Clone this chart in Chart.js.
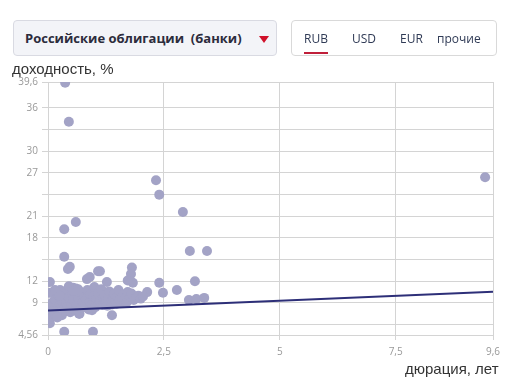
<!DOCTYPE html>
<html>
<head>
<meta charset="utf-8">
<script src="https://cdn.jsdelivr.net/npm/chart.js@4.4.0/dist/chart.umd.min.js"></script>
<style>
  body { margin: 0; width: 528px; height: 385px; background: #fff; overflow: hidden; font-family: "Open Sans", sans-serif; }
  #wrap { position: relative; width: 528px; height: 385px; }
  #chart { position: absolute; left: 0; top: 0; }
  .select { position: absolute; left: 13px; top: 20px; width: 262px; height: 34px; background: #f3f4f8; border: 1px solid #d9dae2; border-radius: 4px; }
  .select span { position: absolute; left: 11px; top: 8px; font-size: 13px; font-weight: 700; color: #2c2c3c; white-space: pre; }
  .select i { position: absolute; left: 245px; top: 15px; width: 0; height: 0; border-left: 5px solid transparent; border-right: 5px solid transparent; border-top: 7px solid #d0102a; }
  .tabs { position: absolute; left: 291px; top: 20px; width: 204px; height: 34px; border: 1px solid #d9d9d9; border-radius: 4px; background: #fff; }
  .tabs span { position: absolute; top: 9px; font-size: 12px; color: #2f3a55; }
  .tabs .on { border-bottom: 2px solid #c01f3a; padding-bottom: 5px; }
  .axt { position: absolute; font-family: "Liberation Sans", Arial, sans-serif; font-size: 15px; color: #333; }
</style>
</head>
<body>
<div id="wrap">
  <canvas id="chart" width="528" height="385"></canvas>
  <div class="select"><span>Российские облигации  (банки)</span><i></i></div>
  <div class="tabs">
    <span class="on" style="left:12px">RUB</span>
    <span style="left:60px">USD</span>
    <span style="left:108px">EUR</span>
    <span style="left:145px">прочие</span>
  </div>
  <div class="axt" style="left:12px; top:60px;">доходность, %</div>
  <div class="axt" style="left:405px; top:360px;">дюрация, лет</div>
</div>
<script>
const POINT_COLOR = "#a3a3c6";
const LINE_COLOR = "#2d2f78";
const GRID_COLOR = "#d4d4d4";
const TICK_COLOR = "#999";

// duration (years) / yield (%)
const durations = [
  0.37, 0.45, 2.33, 2.4, 2.91, 3.06, 3.43, 9.43, 0.6, 0.35, 0.35, 0.47, 0.43,
  3.17, 2.78, 3.04, 3.2, 3.37, 2.4, 2.48, 2.14, 1.81, 1.79, 1.83, 1.72, 1.08,
  0.9, 0.84, 1.27, 0.04, 0.35, 0.97, 0.04, 0.04, 1.12, 0.26, 0.54, 0.67, 0.95,
  0.02, 0.03, 0.05, 0.08, 0.1, 0.12, 0.15, 0.18, 0.2, 0.22, 0.25, 0.28, 0.3,
  0.32, 0.35, 0.38, 0.4, 0.42, 0.45, 0.48, 0.5, 0.52, 0.55, 0.58, 0.6, 0.62,
  0.65, 0.68, 0.7, 0.72, 0.75, 0.78, 0.8, 0.82, 0.85, 0.88, 0.9, 0.92, 0.95,
  0.98, 1.0, 1.02, 1.05, 1.08, 1.1, 1.12, 1.15, 1.18, 1.2, 1.22, 1.25, 1.28,
  1.3, 1.32, 1.35, 1.38, 1.4, 1.42, 1.45, 1.48, 1.5, 1.52, 1.55, 1.58, 1.6,
  1.62, 1.65, 1.68, 1.7, 1.72, 1.75, 1.78, 1.8, 1.85, 1.9, 1.95, 2.0, 2.05,
  0.15, 0.25, 0.45, 0.55, 0.65, 0.12, 0.3, 1.38, 0.2
];
const yields = [
  39.5, 34.1, 26.0, 24.0, 21.6, 16.2, 16.2, 26.4, 20.2, 19.2, 15.4, 14.0, 13.7,
  12.0, 10.8, 9.4, 9.55, 9.7, 11.8, 10.4, 10.5, 13.9, 13.0, 11.8, 12.1, 13.4,
  12.6, 12.3, 11.9, 11.9, 5.0, 5.0, 6.2, 10.4, 13.4, 10.8, 11.1, 7.5, 8.0,
  6.6, 7.5, 8.2, 9.0, 7.8, 8.6, 9.5, 7.2, 8.0, 10.1, 8.8, 7.6, 9.3,
  8.1, 10.6, 7.9, 9.0, 8.4, 9.8, 7.7, 8.7, 10.3, 9.4, 8.0, 11.0, 8.9,
  9.7, 7.5, 10.5, 8.3, 9.1, 10.0, 8.6, 9.5, 10.8, 8.1, 9.2, 10.2, 8.8,
  9.9, 11.2, 8.4, 9.6, 10.4, 8.9, 9.3, 10.9, 8.7, 9.8, 10.1, 9.0, 8.6,
  9.5, 10.6, 9.1, 8.8, 9.7, 10.3, 9.2, 8.9, 9.9, 10.8, 9.4, 9.0, 9.6,
  10.2, 9.3, 9.8, 9.1, 10.5, 9.5, 9.9, 10.3, 9.4, 9.7, 10.0, 9.6, 9.9,
  10.8, 10.0, 11.3, 10.7, 10.9, 7.9, 7.3, 7.3, 7.0
];

// trend line ends
const trendX = [0, 9.6];
const trendY = [7.95, 10.55];

const xTicks = [0, 2.5, 5, 7.5, 9.6];
const yTicks = [4.56, 6, 9, 12, 15, 18, 21, 24, 27, 30, 33, 36, 39.6];
const yLabelled = [4.56, 9, 12, 18, 21, 27, 30, 36, 39.6];

const fmt = (v) => String(v).replace(".", ",");

new Chart(document.getElementById("chart"), {
  type: "scatter",
  data: {
    datasets: [
      {
        type: "line",
        data: trendX.map((x, i) => ({ x: x, y: trendY[i] })),
        borderColor: LINE_COLOR,
        borderWidth: 2,
        pointRadius: 0,
        order: 0,
      },
      {
        data: durations.map((x, i) => ({ x: x, y: yields[i] })),
        backgroundColor: POINT_COLOR,
        borderWidth: 0,
        pointRadius: 5,
        pointHoverRadius: 5,
        clip: 0,
        order: 1,
      },
    ],
  },
  options: {
    responsive: false,
    animation: false,
    layout: { padding: { left: 0, right: 35, top: 82, bottom: 0 } },
    plugins: { legend: { display: false }, tooltip: { enabled: false } },
    scales: {
      x: {
        type: "linear",
        min: 0,
        max: 9.6,
        afterBuildTicks: (s) => { s.ticks = xTicks.map((v) => ({ value: v })); },
        afterFit: (s) => { s.height = 50; },
        ticks: {
          color: TICK_COLOR,
          font: { family: "Open Sans", size: 10 },
          padding: 6,
          maxRotation: 0,
          callback: (v) => fmt(v),
        },
        grid: { color: GRID_COLOR, tickLength: 5 },
        border: { color: GRID_COLOR },
      },
      y: {
        type: "linear",
        min: 4.56,
        max: 39.6,
        afterBuildTicks: (s) => { s.ticks = yTicks.map((v) => ({ value: v })); },
        afterFit: (s) => { s.width = 48; },
        ticks: {
          color: TICK_COLOR,
          font: { family: "Open Sans", size: 10 },
          padding: 4,
          autoSkip: false,
          callback: (v) => (yLabelled.includes(v) ? fmt(v) : ""),
        },
        grid: { color: GRID_COLOR, tickLength: 6 },
        border: { color: GRID_COLOR },
      },
    },
  },
});
</script>
</body>
</html>
